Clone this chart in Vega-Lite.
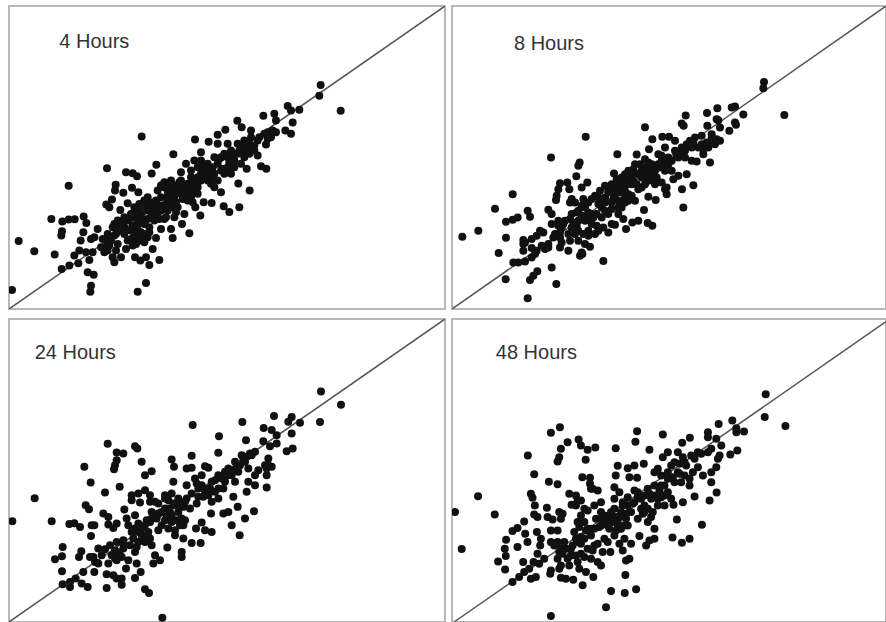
{"$schema":"https://vega.github.io/schema/vega-lite/v6.json","padding":{"left":8,"top":5,"right":0,"bottom":0},"background":"white","config":{"view":{"stroke":"#b8b8b8","strokeWidth":2}},"datasets":{
"h4":[{"x":33,"y":132},{"x":53,"y":279},{"x":100,"y":248},{"x":161,"y":238},{"x":182,"y":195},{"x":205,"y":205},{"x":151,"y":345},{"x":184,"y":337},{"x":203,"y":343},{"x":221,"y":344},{"x":203,"y":444},{"x":183,"y":308},{"x":181,"y":295},{"x":248,"y":352},{"x":256,"y":333},{"x":247,"y":305},{"x":239,"y":280},{"x":270,"y":285},{"x":290,"y":315},{"x":318,"y":497},{"x":375,"y":485},{"x":395,"y":482},{"x":408,"y":473},{"x":422,"y":592},{"x":466,"y":507},{"x":452,"y":481},{"x":517,"y":539},{"x":582,"y":583},{"x":344,"y":447},{"x":342,"y":430},{"x":367,"y":423},{"x":393,"y":438},{"x":412,"y":425},{"x":333,"y":403},{"x":380,"y":392},{"x":316,"y":388},{"x":325,"y":380},{"x":358,"y":372},{"x":959,"y":746},{"x":955,"y":714},{"x":1019,"y":669},{"x":860,"y":683},{"x":870,"y":670},{"x":895,"y":672},{"x":787,"y":654},{"x":820,"y":660},{"x":825,"y":640},{"x":875,"y":634},{"x":853,"y":610},{"x":870,"y":600},{"x":709,"y":639},{"x":722,"y":620},{"x":673,"y":612},{"x":650,"y":597},{"x":623,"y":576},{"x":750,"y":610},{"x":800,"y":605},{"x":825,"y":605},{"x":800,"y":585},{"x":795,"y":568},{"x":810,"y":590},{"x":780,"y":503},{"x":796,"y":495},{"x":737,"y":495},{"x":712,"y":451},{"x":746,"y":430},{"x":715,"y":380},{"x":685,"y":366},{"x":668,"y":383},{"x":632,"y":393},{"x":660,"y":425},{"x":608,"y":395},{"x":598,"y":355},{"x":583,"y":380},{"x":565,"y":302},{"x":543,"y":330},{"x":510,"y":315},{"x":515,"y":288},{"x":480,"y":315},{"x":465,"y":288},{"x":475,"y":222},{"x":445,"y":207},{"x":435,"y":230},{"x":402,"y":230},{"x":418,"y":220},{"x":435,"y":153},{"x":410,"y":127},{"x":270,"y":145},{"x":268,"y":127},{"x":260,"y":185},{"x":278,"y":178},{"x":265,"y":222},{"x":232,"y":212},{"x":220,"y":235},{"x":235,"y":250},{"x":255,"y":245},{"x":275,"y":245},{"x":300,"y":260},{"x":320,"y":250},{"x":335,"y":230},{"x":340,"y":215},{"x":360,"y":230},{"x":375,"y":255},{"x":405,"y":270},{"x":430,"y":275},{"x":455,"y":255},{"x":330,"y":280},{"x":345,"y":300},{"x":335,"y":320},{"x":350,"y":340},{"x":370,"y":320},{"x":390,"y":310},{"x":410,"y":310},{"x":430,"y":300},{"x":445,"y":320},{"x":400,"y":350},{"x":420,"y":360},{"x":440,"y":370},{"x":460,"y":380},{"x":480,"y":370},{"x":380,"y":340},{"x":400,"y":380},{"x":430,"y":400},{"x":470,"y":430},{"x":490,"y":455},{"x":510,"y":460},{"x":530,"y":440},{"x":550,"y":430},{"x":570,"y":410},{"x":590,"y":440},{"x":570,"y":470},{"x":600,"y":500},{"x":620,"y":510},{"x":640,"y":480},{"x":620,"y":460},{"x":640,"y":440},{"x":660,"y":490},{"x":680,"y":500},{"x":660,"y":530},{"x":690,"y":550},{"x":710,"y":570},{"x":730,"y":580},{"x":750,"y":590},{"x":770,"y":580},{"x":760,"y":550},{"x":770,"y":535},{"x":730,"y":530},{"x":700,"y":520},{"x":680,"y":570},{"x":650,"y":570},{"x":600,"y":545},{"x":580,"y":520},{"x":555,"y":510},{"x":540,"y":485},{"x":510,"y":400},{"x":530,"y":380},{"x":550,"y":360},{"x":520,"y":350},{"x":490,"y":345},{"x":460,"y":340},{"x":500,"y":430},{"x":480,"y":410},{"x":445,"y":395},{"x":415,"y":390},{"x":390,"y":360},{"x":370,"y":350},{"x":360,"y":310},{"x":320,"y":300},{"x":305,"y":285},{"x":280,"y":290},{"x":350,"y":270},{"x":380,"y":280},{"x":410,"y":290},{"x":430,"y":330},{"x":450,"y":350},{"x":500,"y":370},{"x":520,"y":410},{"x":540,"y":420},{"x":560,"y":450},{"x":580,"y":440},{"x":600,"y":480},{"x":620,"y":480},{"x":650,"y":510},{"x":670,"y":480},{"x":640,"y":530},{"x":710,"y":540},{"x":720,"y":560},{"x":740,"y":560},{"x":745,"y":540},{"x":700,"y":500},{"x":680,"y":530},{"x":600,"y":520},{"x":610,"y":490},{"x":590,"y":470},{"x":570,"y":490},{"x":540,"y":460},{"x":410,"y":340},{"x":470,"y":360},{"x":500,"y":400},{"x":560,"y":420},{"x":630,"y":450},{"x":690,"y":480},{"x":720,"y":510},{"x":320,"y":270},{"x":310,"y":245},{"x":390,"y":285},{"x":440,"y":290},{"x":340,"y":330},{"x":355,"y":320},{"x":375,"y":310},{"x":395,"y":325},{"x":410,"y":325},{"x":425,"y":345},{"x":440,"y":345},{"x":455,"y":365},{"x":470,"y":375},{"x":490,"y":385},{"x":505,"y":390},{"x":515,"y":380},{"x":525,"y":395},{"x":500,"y":415},{"x":515,"y":430},{"x":535,"y":455},{"x":545,"y":445},{"x":555,"y":440},{"x":565,"y":430},{"x":575,"y":425},{"x":590,"y":455},{"x":600,"y":460},{"x":610,"y":470},{"x":620,"y":495},{"x":635,"y":500},{"x":605,"y":510},{"x":590,"y":500},{"x":575,"y":455},{"x":490,"y":440},{"x":505,"y":450},{"x":480,"y":445},{"x":465,"y":400},{"x":450,"y":380},{"x":435,"y":380},{"x":415,"y":370},{"x":400,"y":365},{"x":385,"y":345},{"x":365,"y":335},{"x":345,"y":320},{"x":325,"y":290},{"x":340,"y":295},{"x":370,"y":300},{"x":400,"y":300},{"x":420,"y":305},{"x":445,"y":305},{"x":420,"y":280},{"x":395,"y":265},{"x":345,"y":250},{"x":325,"y":265},{"x":685,"y":515},{"x":700,"y":540},{"x":715,"y":550},{"x":730,"y":565},{"x":745,"y":570},{"x":760,"y":565},{"x":775,"y":590},{"x":790,"y":600},{"x":800,"y":600},{"x":815,"y":610},{"x":670,"y":540},{"x":655,"y":525},{"x":630,"y":470},{"x":650,"y":460},{"x":665,"y":495},{"x":690,"y":520},{"x":725,"y":545},{"x":520,"y":445},{"x":530,"y":425},{"x":545,"y":405},{"x":560,"y":400},{"x":575,"y":395},{"x":590,"y":420},{"x":480,"y":385},{"x":460,"y":395},{"x":440,"y":410},{"x":510,"y":385},{"x":495,"y":350},{"x":475,"y":345},{"x":525,"y":365}],
"h8":[{"x":52,"y":292},{"x":100,"y":310},{"x":150,"y":376},{"x":183,"y":337},{"x":203,"y":343},{"x":218,"y":350},{"x":203,"y":420},{"x":183,"y":289},{"x":161,"y":243},{"x":182,"y":164},{"x":248,"y":107},{"x":255,"y":162},{"x":265,"y":175},{"x":277,"y":188},{"x":320,"y":200},{"x":334,"y":150},{"x":475,"y":219},{"x":405,"y":235},{"x":412,"y":240},{"x":248,"y":370},{"x":255,"y":352},{"x":318,"y":530},{"x":404,"y":515},{"x":400,"y":505},{"x":422,"y":592},{"x":394,"y":474},{"x":345,"y":453},{"x":367,"y":455},{"x":340,"y":435},{"x":335,"y":415},{"x":333,"y":402},{"x":373,"y":435},{"x":410,"y":440},{"x":427,"y":455},{"x":380,"y":405},{"x":375,"y":395},{"x":310,"y":373},{"x":320,"y":360},{"x":517,"y":540},{"x":507,"y":482},{"x":575,"y":539},{"x":600,"y":621},{"x":622,"y":585},{"x":612,"y":555},{"x":652,"y":592},{"x":672,"y":592},{"x":690,"y":580},{"x":722,"y":656},{"x":710,"y":632},{"x":716,"y":625},{"x":786,"y":664},{"x":817,"y":678},{"x":860,"y":680},{"x":870,"y":683},{"x":895,"y":659},{"x":815,"y":645},{"x":820,"y":642},{"x":787,"y":625},{"x":825,"y":620},{"x":853,"y":610},{"x":870,"y":635},{"x":873,"y":628},{"x":957,"y":757},{"x":955,"y":738},{"x":1018,"y":658},{"x":795,"y":515},{"x":745,"y":447},{"x":711,"y":435},{"x":715,"y":380},{"x":665,"y":420},{"x":660,"y":435},{"x":632,"y":402},{"x":610,"y":412},{"x":597,"y":372},{"x":622,"y":325},{"x":608,"y":333},{"x":580,"y":340},{"x":562,"y":335},{"x":543,"y":315},{"x":535,"y":345},{"x":510,"y":328},{"x":490,"y":305},{"x":475,"y":320},{"x":205,"y":215},{"x":220,"y":215},{"x":240,"y":218},{"x":260,"y":230},{"x":270,"y":240},{"x":235,"y":250},{"x":240,"y":275},{"x":235,"y":282},{"x":260,"y":285},{"x":285,"y":310},{"x":295,"y":305},{"x":275,"y":295},{"x":300,"y":255},{"x":310,"y":260},{"x":330,"y":300},{"x":320,"y":330},{"x":340,"y":340},{"x":350,"y":320},{"x":345,"y":260},{"x":370,"y":250},{"x":350,"y":275},{"x":375,"y":280},{"x":400,"y":280},{"x":420,"y":270},{"x":435,"y":262},{"x":410,"y":245},{"x":450,"y":300},{"x":460,"y":310},{"x":430,"y":310},{"x":400,"y":310},{"x":380,"y":320},{"x":360,"y":340},{"x":380,"y":360},{"x":400,"y":370},{"x":420,"y":380},{"x":440,"y":360},{"x":420,"y":340},{"x":400,"y":340},{"x":440,"y":330},{"x":470,"y":350},{"x":490,"y":360},{"x":460,"y":390},{"x":480,"y":410},{"x":450,"y":415},{"x":500,"y":440},{"x":520,"y":450},{"x":540,"y":460},{"x":560,"y":450},{"x":540,"y":430},{"x":510,"y":420},{"x":490,"y":430},{"x":550,"y":400},{"x":530,"y":380},{"x":500,"y":375},{"x":570,"y":400},{"x":590,"y":440},{"x":610,"y":460},{"x":630,"y":450},{"x":650,"y":455},{"x":665,"y":440},{"x":580,"y":480},{"x":600,"y":500},{"x":620,"y":510},{"x":570,"y":510},{"x":540,"y":480},{"x":630,"y":490},{"x":650,"y":520},{"x":670,"y":510},{"x":700,"y":475},{"x":725,"y":480},{"x":685,"y":465},{"x":700,"y":530},{"x":720,"y":550},{"x":740,"y":560},{"x":750,"y":590},{"x":770,"y":595},{"x":735,"y":580},{"x":710,"y":560},{"x":690,"y":550},{"x":660,"y":560},{"x":640,"y":540},{"x":740,"y":520},{"x":755,"y":518},{"x":775,"y":540},{"x":790,"y":560},{"x":810,"y":570},{"x":825,"y":580},{"x":800,"y":590},{"x":785,"y":575},{"x":800,"y":600},{"x":770,"y":570},{"x":680,"y":490},{"x":660,"y":490},{"x":610,"y":490},{"x":520,"y":400},{"x":470,"y":380},{"x":445,"y":350},{"x":455,"y":325},{"x":500,"y":330},{"x":520,"y":360},{"x":390,"y":395},{"x":415,"y":405},{"x":465,"y":430},{"x":480,"y":445},{"x":600,"y":470},{"x":620,"y":480},{"x":560,"y":480},{"x":530,"y":440},{"x":510,"y":440},{"x":410,"y":355},{"x":430,"y":365},{"x":590,"y":470},{"x":640,"y":510},{"x":720,"y":530},{"x":550,"y":420},{"x":470,"y":400},{"x":490,"y":425},{"x":500,"y":450},{"x":515,"y":465},{"x":530,"y":470},{"x":545,"y":450},{"x":555,"y":470},{"x":565,"y":460},{"x":575,"y":450},{"x":525,"y":425},{"x":540,"y":410},{"x":505,"y":405},{"x":480,"y":395},{"x":460,"y":410},{"x":440,"y":405},{"x":430,"y":395},{"x":410,"y":385},{"x":395,"y":365},{"x":375,"y":345},{"x":355,"y":330},{"x":340,"y":325},{"x":425,"y":355},{"x":410,"y":345},{"x":395,"y":325},{"x":385,"y":335},{"x":370,"y":300},{"x":345,"y":290},{"x":325,"y":290},{"x":310,"y":270},{"x":290,"y":265},{"x":435,"y":345},{"x":455,"y":360},{"x":480,"y":370},{"x":500,"y":395},{"x":520,"y":380},{"x":540,"y":395},{"x":560,"y":415},{"x":580,"y":435},{"x":600,"y":450},{"x":620,"y":465},{"x":635,"y":470},{"x":650,"y":500},{"x":610,"y":515},{"x":590,"y":490},{"x":585,"y":510},{"x":600,"y":525},{"x":565,"y":495},{"x":550,"y":490},{"x":640,"y":500},{"x":660,"y":510},{"x":680,"y":520},{"x":695,"y":535},{"x":710,"y":545},{"x":725,"y":570},{"x":745,"y":575},{"x":760,"y":560},{"x":775,"y":555},{"x":800,"y":575},{"x":815,"y":585},{"x":670,"y":530},{"x":650,"y":535},{"x":235,"y":270},{"x":260,"y":258},{"x":275,"y":250},{"x":345,"y":305},{"x":390,"y":300},{"x":415,"y":300},{"x":430,"y":295}],
"h24":[{"x":32,"y":372},{"x":99,"y":441},{"x":150,"y":372},{"x":203,"y":364},{"x":218,"y":366},{"x":235,"y":355},{"x":183,"y":295},{"x":181,"y":267},{"x":160,"y":258},{"x":181,"y":222},{"x":183,"y":183},{"x":205,"y":175},{"x":205,"y":190},{"x":222,"y":200},{"x":240,"y":185},{"x":258,"y":175},{"x":245,"y":220},{"x":315,"y":172},{"x":252,"y":420},{"x":262,"y":408},{"x":248,"y":535},{"x":267,"y":488},{"x":310,"y":458},{"x":318,"y":604},{"x":345,"y":578},{"x":365,"y":575},{"x":345,"y":555},{"x":340,"y":540},{"x":337,"y":528},{"x":400,"y":597},{"x":407,"y":590},{"x":420,"y":550},{"x":450,"y":522},{"x":430,"y":510},{"x":354,"y":475},{"x":510,"y":557},{"x":517,"y":535},{"x":570,"y":568},{"x":573,"y":660},{"x":652,"y":627},{"x":650,"y":577},{"x":722,"y":669},{"x":733,"y":615},{"x":555,"y":530},{"x":570,"y":532},{"x":610,"y":537},{"x":620,"y":532},{"x":515,"y":490},{"x":958,"y":761},{"x":1018,"y":721},{"x":955,"y":669},{"x":817,"y":687},{"x":870,"y":684},{"x":860,"y":670},{"x":895,"y":667},{"x":870,"y":635},{"x":786,"y":651},{"x":810,"y":645},{"x":825,"y":630},{"x":825,"y":605},{"x":805,"y":597},{"x":785,"y":612},{"x":855,"y":582},{"x":873,"y":590},{"x":795,"y":473},{"x":757,"y":402},{"x":730,"y":380},{"x":708,"y":415},{"x":714,"y":330},{"x":690,"y":360},{"x":665,"y":395},{"x":680,"y":400},{"x":628,"y":395},{"x":600,"y":368},{"x":630,"y":340},{"x":610,"y":345},{"x":583,"y":350},{"x":597,"y":307},{"x":570,"y":307},{"x":545,"y":320},{"x":540,"y":280},{"x":540,"y":265},{"x":497,"y":293},{"x":482,"y":83},{"x":442,"y":157},{"x":430,"y":168},{"x":400,"y":202},{"x":417,"y":220},{"x":373,"y":230},{"x":360,"y":200},{"x":360,"y":182},{"x":345,"y":200},{"x":315,"y":213},{"x":335,"y":210},{"x":278,"y":220},{"x":270,"y":360},{"x":278,"y":360},{"x":268,"y":328},{"x":305,"y":395},{"x":320,"y":385},{"x":320,"y":362},{"x":345,"y":365},{"x":335,"y":352},{"x":368,"y":407},{"x":239,"y":282},{"x":232,"y":265},{"x":265,"y":265},{"x":280,"y":250},{"x":290,"y":290},{"x":310,"y":288},{"x":290,"y":245},{"x":320,"y":245},{"x":340,"y":260},{"x":360,"y":265},{"x":345,"y":310},{"x":365,"y":315},{"x":385,"y":300},{"x":400,"y":280},{"x":405,"y":245},{"x":380,"y":255},{"x":410,"y":310},{"x":430,"y":310},{"x":450,"y":300},{"x":460,"y":270},{"x":475,"y":255},{"x":455,"y":245},{"x":380,"y":360},{"x":375,"y":380},{"x":400,"y":390},{"x":410,"y":365},{"x":390,"y":340},{"x":420,"y":350},{"x":440,"y":340},{"x":445,"y":370},{"x":465,"y":380},{"x":480,"y":360},{"x":500,"y":350},{"x":520,"y":330},{"x":545,"y":360},{"x":540,"y":380},{"x":510,"y":390},{"x":480,"y":400},{"x":450,"y":400},{"x":470,"y":425},{"x":490,"y":450},{"x":510,"y":455},{"x":530,"y":440},{"x":550,"y":430},{"x":565,"y":410},{"x":585,"y":425},{"x":570,"y":455},{"x":590,"y":470},{"x":610,"y":460},{"x":630,"y":430},{"x":650,"y":440},{"x":630,"y":490},{"x":650,"y":510},{"x":680,"y":530},{"x":700,"y":550},{"x":720,"y":570},{"x":745,"y":575},{"x":760,"y":580},{"x":690,"y":510},{"x":710,"y":520},{"x":740,"y":490},{"x":760,"y":480},{"x":795,"y":510},{"x":810,"y":535},{"x":800,"y":560},{"x":770,"y":525},{"x":625,"y":470},{"x":600,"y":510},{"x":580,"y":500},{"x":555,"y":480},{"x":410,"y":455},{"x":390,"y":450},{"x":430,"y":465},{"x":445,"y":450},{"x":415,"y":428},{"x":390,"y":435},{"x":445,"y":430},{"x":460,"y":430},{"x":670,"y":490},{"x":650,"y":470},{"x":700,"y":490},{"x":695,"y":445},{"x":735,"y":460},{"x":340,"y":285},{"x":330,"y":270},{"x":365,"y":290},{"x":430,"y":360},{"x":500,"y":410},{"x":530,"y":400},{"x":520,"y":420},{"x":420,"y":330},{"x":660,"y":500},{"x":730,"y":550},{"x":790,"y":540},{"x":490,"y":440},{"x":500,"y":435},{"x":515,"y":425},{"x":530,"y":420},{"x":545,"y":415},{"x":555,"y":440},{"x":490,"y":410},{"x":505,"y":400},{"x":525,"y":375},{"x":510,"y":370},{"x":495,"y":385},{"x":470,"y":395},{"x":450,"y":380},{"x":435,"y":375},{"x":415,"y":345},{"x":400,"y":350},{"x":425,"y":325},{"x":445,"y":320},{"x":410,"y":340},{"x":395,"y":320},{"x":470,"y":345},{"x":490,"y":375},{"x":520,"y":345},{"x":535,"y":360},{"x":550,"y":375},{"x":590,"y":445},{"x":605,"y":445},{"x":620,"y":450},{"x":640,"y":460},{"x":620,"y":470},{"x":600,"y":480},{"x":585,"y":485},{"x":640,"y":495},{"x":665,"y":470},{"x":680,"y":510},{"x":690,"y":525},{"x":705,"y":535},{"x":725,"y":555},{"x":735,"y":565},{"x":750,"y":570},{"x":715,"y":540},{"x":670,"y":520},{"x":345,"y":280},{"x":355,"y":270},{"x":345,"y":255},{"x":300,"y":270},{"x":275,"y":265},{"x":325,"y":300},{"x":365,"y":305},{"x":405,"y":295},{"x":795,"y":530},{"x":800,"y":540},{"x":740,"y":530},{"x":760,"y":510}],
"h48":[{"x":33,"y":400},{"x":102,"y":448},{"x":152,"y":393},{"x":53,"y":289},{"x":162,"y":252},{"x":183,"y":228},{"x":185,"y":268},{"x":182,"y":290},{"x":186,"y":317},{"x":205,"y":343},{"x":220,"y":352},{"x":240,"y":372},{"x":220,"y":295},{"x":243,"y":335},{"x":250,"y":310},{"x":237,"y":250},{"x":251,"y":570},{"x":270,"y":514},{"x":260,"y":455},{"x":265,"y":443},{"x":272,"y":420},{"x":270,"y":393},{"x":280,"y":385},{"x":278,"y":340},{"x":290,"y":320},{"x":288,"y":300},{"x":280,"y":275},{"x":300,"y":260},{"x":268,"y":250},{"x":285,"y":245},{"x":205,"y":190},{"x":225,"y":205},{"x":240,"y":220},{"x":255,"y":230},{"x":260,"y":200},{"x":275,"y":205},{"x":320,"y":638},{"x":347,"y":655},{"x":370,"y":610},{"x":350,"y":590},{"x":345,"y":565},{"x":340,"y":552},{"x":403,"y":618},{"x":410,"y":600},{"x":430,"y":587},{"x":453,"y":594},{"x":424,"y":557},{"x":514,"y":592},{"x":578,"y":643},{"x":573,"y":611},{"x":655,"y":633},{"x":615,"y":587},{"x":713,"y":608},{"x":736,"y":623},{"x":790,"y":640},{"x":790,"y":625},{"x":822,"y":665},{"x":863,"y":675},{"x":875,"y":652},{"x":875,"y":640},{"x":898,"y":642},{"x":963,"y":754},{"x":960,"y":686},{"x":1022,"y":659},{"x":878,"y":585},{"x":857,"y":573},{"x":520,"y":539},{"x":550,"y":532},{"x":570,"y":540},{"x":598,"y":545},{"x":514,"y":510},{"x":555,"y":505},{"x":578,"y":503},{"x":314,"y":491},{"x":340,"y":484},{"x":414,"y":505},{"x":437,"y":503},{"x":437,"y":485},{"x":375,"y":455},{"x":395,"y":450},{"x":308,"y":413},{"x":345,"y":400},{"x":355,"y":395},{"x":310,"y":385},{"x":325,"y":378},{"x":350,"y":380},{"x":320,"y":345},{"x":340,"y":345},{"x":382,"y":422},{"x":410,"y":435},{"x":320,"y":310},{"x":320,"y":225},{"x":318,"y":215},{"x":350,"y":203},{"x":365,"y":200},{"x":387,"y":197},{"x":415,"y":180},{"x":447,"y":205},{"x":500,"y":163},{"x":543,"y":211},{"x":541,"y":157},{"x":575,"y":168},{"x":485,"y":114},{"x":320,"y":88},{"x":470,"y":240},{"x":545,"y":255},{"x":555,"y":260},{"x":535,"y":285},{"x":498,"y":280},{"x":605,"y":300},{"x":630,"y":320},{"x":615,"y":315},{"x":585,"y":328},{"x":560,"y":305},{"x":684,"y":324},{"x":712,"y":308},{"x":735,"y":320},{"x":772,"y":362},{"x":697,"y":378},{"x":687,"y":422},{"x":715,"y":430},{"x":750,"y":447},{"x":795,"y":435},{"x":816,"y":459},{"x":800,"y":490},{"x":340,"y":310},{"x":350,"y":290},{"x":340,"y":260},{"x":345,"y":230},{"x":370,"y":260},{"x":375,"y":240},{"x":400,"y":250},{"x":405,"y":230},{"x":425,"y":220},{"x":440,"y":260},{"x":460,"y":250},{"x":430,"y":290},{"x":380,"y":290},{"x":400,"y":310},{"x":420,"y":320},{"x":390,"y":340},{"x":405,"y":355},{"x":420,"y":370},{"x":450,"y":350},{"x":470,"y":360},{"x":490,"y":310},{"x":470,"y":380},{"x":495,"y":390},{"x":510,"y":410},{"x":530,"y":400},{"x":545,"y":380},{"x":530,"y":350},{"x":510,"y":330},{"x":490,"y":360},{"x":520,"y":370},{"x":550,"y":360},{"x":440,"y":470},{"x":460,"y":465},{"x":510,"y":475},{"x":525,"y":460},{"x":470,"y":430},{"x":450,"y":420},{"x":420,"y":410},{"x":410,"y":390},{"x":550,"y":420},{"x":570,"y":430},{"x":590,"y":440},{"x":610,"y":470},{"x":630,"y":480},{"x":650,"y":510},{"x":640,"y":530},{"x":680,"y":540},{"x":700,"y":520},{"x":720,"y":550},{"x":740,"y":570},{"x":760,"y":580},{"x":700,"y":580},{"x":670,"y":580},{"x":655,"y":565},{"x":690,"y":490},{"x":710,"y":490},{"x":735,"y":480},{"x":660,"y":450},{"x":680,"y":440},{"x":640,"y":440},{"x":625,"y":400},{"x":610,"y":370},{"x":630,"y":350},{"x":600,"y":400},{"x":580,"y":380},{"x":560,"y":400},{"x":510,"y":440},{"x":580,"y":460},{"x":600,"y":420},{"x":760,"y":535},{"x":775,"y":510},{"x":800,"y":520},{"x":815,"y":535},{"x":820,"y":560},{"x":800,"y":590},{"x":830,"y":600},{"x":825,"y":570},{"x":790,"y":580},{"x":815,"y":620},{"x":720,"y":510},{"x":690,"y":550},{"x":670,"y":520},{"x":630,"y":520},{"x":540,"y":320},{"x":525,"y":305},{"x":350,"y":240},{"x":330,"y":300},{"x":360,"y":310},{"x":450,"y":300},{"x":475,"y":280},{"x":430,"y":350},{"x":500,"y":380},{"x":535,"y":420},{"x":590,"y":410},{"x":620,"y":440},{"x":650,"y":480},{"x":480,"y":390},{"x":500,"y":400},{"x":515,"y":385},{"x":525,"y":385},{"x":540,"y":395},{"x":505,"y":370},{"x":520,"y":355},{"x":485,"y":375},{"x":465,"y":355},{"x":440,"y":350},{"x":425,"y":345},{"x":410,"y":325},{"x":395,"y":320},{"x":410,"y":305},{"x":385,"y":300},{"x":365,"y":290},{"x":345,"y":280},{"x":395,"y":270},{"x":420,"y":265},{"x":445,"y":285},{"x":460,"y":305},{"x":480,"y":320},{"x":555,"y":400},{"x":565,"y":425},{"x":580,"y":445},{"x":600,"y":450},{"x":615,"y":455},{"x":630,"y":450},{"x":645,"y":465},{"x":660,"y":480},{"x":670,"y":500},{"x":685,"y":505},{"x":705,"y":515},{"x":650,"y":445},{"x":610,"y":410},{"x":595,"y":395},{"x":620,"y":385},{"x":640,"y":420},{"x":660,"y":420},{"x":670,"y":460},{"x":725,"y":540},{"x":750,"y":560},{"x":770,"y":575},{"x":745,"y":520},{"x":735,"y":500},{"x":705,"y":545},{"x":715,"y":565},{"x":440,"y":330},{"x":455,"y":380},{"x":470,"y":400},{"x":495,"y":350},{"x":515,"y":345},{"x":540,"y":360},{"x":535,"y":430},{"x":550,"y":445},{"x":570,"y":465},{"x":400,"y":370},{"x":430,"y":405},{"x":445,"y":470},{"x":395,"y":420},{"x":400,"y":435},{"x":355,"y":275},{"x":380,"y":270},{"x":410,"y":275}]
},"spacing":8,"vconcat":[{"spacing":5,"hconcat":[
{"width":436,"height":303,"layer":[
{"data":{"values":[{"x":24,"y":75},{"x":1332,"y":983}]},"mark":{"type":"line","color":"#555555","strokeWidth":1.5,"clip":true},"encoding":{"x":{"field":"x","type":"quantitative","axis":null,"scale":{"domain":[24,1332],"nice":false,"zero":false}},"y":{"field":"y","type":"quantitative","axis":null,"scale":{"domain":[75,983],"nice":false,"zero":false}}}},
{"data":{"name":"h4"},"mark":{"type":"circle","color":"#111111","opacity":1,"size":64,"clip":true},"encoding":{"x":{"field":"x","type":"quantitative"},"y":{"field":"y","type":"quantitative"}}},
{"data":{"values":[{"x":175,"y":857,"label":"4 Hours"}]},"mark":{"type":"text","align":"left","baseline":"alphabetic","font":"Liberation Sans","fontSize":20,"color":"#333333"},"encoding":{"x":{"field":"x","type":"quantitative"},"y":{"field":"y","type":"quantitative"},"text":{"field":"label"}}}]},
{"width":434,"height":303,"layer":[
{"data":{"values":[{"x":21,"y":75},{"x":1323,"y":985}]},"mark":{"type":"line","color":"#555555","strokeWidth":1.5,"clip":true},"encoding":{"x":{"field":"x","type":"quantitative","axis":null,"scale":{"domain":[21,1323],"nice":false,"zero":false}},"y":{"field":"y","type":"quantitative","axis":null,"scale":{"domain":[75,985],"nice":false,"zero":false}}}},
{"data":{"name":"h8"},"mark":{"type":"circle","color":"#111111","opacity":1,"size":64,"clip":true},"encoding":{"x":{"field":"x","type":"quantitative"},"y":{"field":"y","type":"quantitative"}}},
{"data":{"values":[{"x":207,"y":853,"label":"8 Hours"}]},"mark":{"type":"text","align":"left","baseline":"alphabetic","font":"Liberation Sans","fontSize":20,"color":"#333333"},"encoding":{"x":{"field":"x","type":"quantitative"},"y":{"field":"y","type":"quantitative"},"text":{"field":"label"}}}]}
]},{"spacing":5,"hconcat":[
{"width":436,"height":303,"layer":[
{"data":{"values":[{"x":22,"y":70},{"x":1330,"y":978}]},"mark":{"type":"line","color":"#555555","strokeWidth":1.5,"clip":true},"encoding":{"x":{"field":"x","type":"quantitative","axis":null,"scale":{"domain":[22,1330],"nice":false,"zero":false}},"y":{"field":"y","type":"quantitative","axis":null,"scale":{"domain":[70,978],"nice":false,"zero":false}}}},
{"data":{"name":"h24"},"mark":{"type":"circle","color":"#111111","opacity":1,"size":64,"clip":true},"encoding":{"x":{"field":"x","type":"quantitative"},"y":{"field":"y","type":"quantitative"}}},
{"data":{"values":[{"x":99,"y":857,"label":"24 Hours"}]},"mark":{"type":"text","align":"left","baseline":"alphabetic","font":"Liberation Sans","fontSize":20,"color":"#333333"},"encoding":{"x":{"field":"x","type":"quantitative"},"y":{"field":"y","type":"quantitative"},"text":{"field":"label"}}}]},
{"width":434,"height":303,"layer":[
{"data":{"values":[{"x":30,"y":70},{"x":1323,"y":972}]},"mark":{"type":"line","color":"#555555","strokeWidth":1.5,"clip":true},"encoding":{"x":{"field":"x","type":"quantitative","axis":null,"scale":{"domain":[24,1323],"nice":false,"zero":false}},"y":{"field":"y","type":"quantitative","axis":null,"scale":{"domain":[70,980],"nice":false,"zero":false}}}},
{"data":{"name":"h48"},"mark":{"type":"circle","color":"#111111","opacity":1,"size":64,"clip":true},"encoding":{"x":{"field":"x","type":"quantitative"},"y":{"field":"y","type":"quantitative"}}},
{"data":{"values":[{"x":155,"y":859,"label":"48 Hours"}]},"mark":{"type":"text","align":"left","baseline":"alphabetic","font":"Liberation Sans","fontSize":20,"color":"#333333"},"encoding":{"x":{"field":"x","type":"quantitative"},"y":{"field":"y","type":"quantitative"},"text":{"field":"label"}}}]}
]}]}
